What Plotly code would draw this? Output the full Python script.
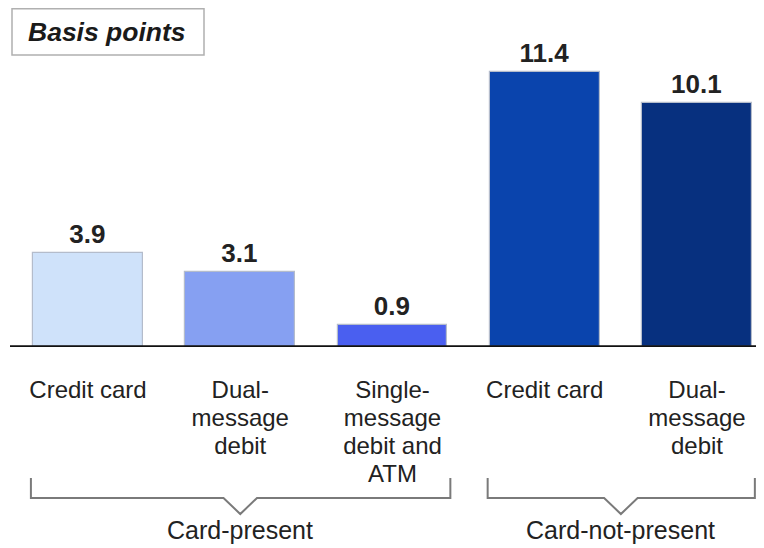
import plotly.graph_objects as go

# ---- data ----
category_lines = [["Credit card"], ["Dual-", "message", "debit"],
                  ["Single-", "message", "debit and", "ATM"],
                  ["Credit card"], ["Dual-", "message", "debit"]]
values = [3.9, 3.1, 0.9, 11.4, 10.1]
value_labels = ["3.9", "3.1", "0.9", "11.4", "10.1"]
groups = ["Card-present", "Card-present", "Card-present", "Card-not-present", "Card-not-present"]
bar_colors = ["#cfe2fa", "#86a0f2", "#4a5ff0", "#0a44ad", "#07307f"]

OFF = 8  # page body margin
W, H = 764 - OFF, 548 - OFF
BASE = 347 - OFF            # baseline pixel in figure coords
MB = H - BASE
plot_h = BASE
px_per_cat = 152.25
x0_px = 88.0 - OFF
xmin = -x0_px / px_per_cat
xmax = xmin + W / px_per_cat
px_per_unit = (347 - 72) / 11.4
ymax = plot_h / px_per_unit

def py(pix):  # target pixel y -> paper y
    return (BASE - (pix - OFF)) / plot_h

def pxp(pix):  # target pixel x -> paper x
    return (pix - OFF) / W

xs = list(range(len(values)))
ticktext = ["<br>".join(f'<span style="font-size:24px">{l}</span>' for l in lines)
            for lines in category_lines]

fig = go.Figure()
fig.add_trace(go.Bar(
    x=xs, y=values, width=0.72,
    marker=dict(color=bar_colors, line=dict(color="#b4bccb", width=1.2)),
    text=value_labels, textposition="outside", cliponaxis=False,
    textfont=dict(family="Liberation Sans, Arial", size=26, color="#222222"),
    texttemplate="<b>%{text}</b>",
    hoverinfo="skip",
))

# baseline axis line
fig.add_shape(type="line", xref="paper", yref="y", x0=pxp(10), x1=1, y0=0, y1=0,
              line=dict(color="#111111", width=3.5))

# group brackets and labels
gnames = []
for g in groups:
    if g not in gnames:
        gnames.append(g)
for g in gnames:
    idx = [i for i, gg in enumerate(groups) if gg == g]
    a, b = idx[0] - 0.375, idx[-1] + 0.38
    c = (idx[0] + idx[-1]) / 2
    ytop, ymid, ytip = py(478), py(498), py(514)
    path = (f"M {a},{ytop} L {a},{ymid} L {c - 0.11},{ymid} L {c},{ytip} "
            f"L {c + 0.11},{ymid} L {b},{ymid} L {b},{ytop}")
    fig.add_shape(type="path", xref="x", yref="paper", path=path,
                  line=dict(color="#7a7a7a", width=2))
    fig.add_annotation(x=c, y=py(530), xref="x", yref="paper", text=g,
                       showarrow=False, xanchor="center", yanchor="middle",
                       font=dict(family="Liberation Sans, Arial", size=25, color="#222222"))

# title box
fig.add_shape(type="rect", xref="paper", yref="paper",
              x0=pxp(12), x1=pxp(204), y0=py(55), y1=py(8.8),
              line=dict(color="#b0b0b0", width=1.5), fillcolor="white")
fig.add_annotation(x=pxp(107), y=py(32), xref="paper", yref="paper",
                   text="<b><i>Basis points</i></b>", showarrow=False,
                   xanchor="center", yanchor="middle",
                   font=dict(family="Liberation Sans, Arial", size=26.5, color="#1a1a1a"))

fig.update_xaxes(range=[xmin, xmax], tickvals=xs, ticktext=ticktext,
                 showgrid=False, zeroline=False, showline=False, ticks="",
                 ticklabelstandoff=28,
                 tickfont=dict(family="Liberation Sans, Arial", size=21.7, color="#222222"))
fig.update_yaxes(range=[0, ymax], visible=False, showgrid=False, zeroline=False)

fig.update_layout(width=W, height=H, margin=dict(l=0, r=0, t=0, b=MB),
                  plot_bgcolor="white", paper_bgcolor="white",
                  showlegend=False, bargap=0)

fig.write_html("out.html")
